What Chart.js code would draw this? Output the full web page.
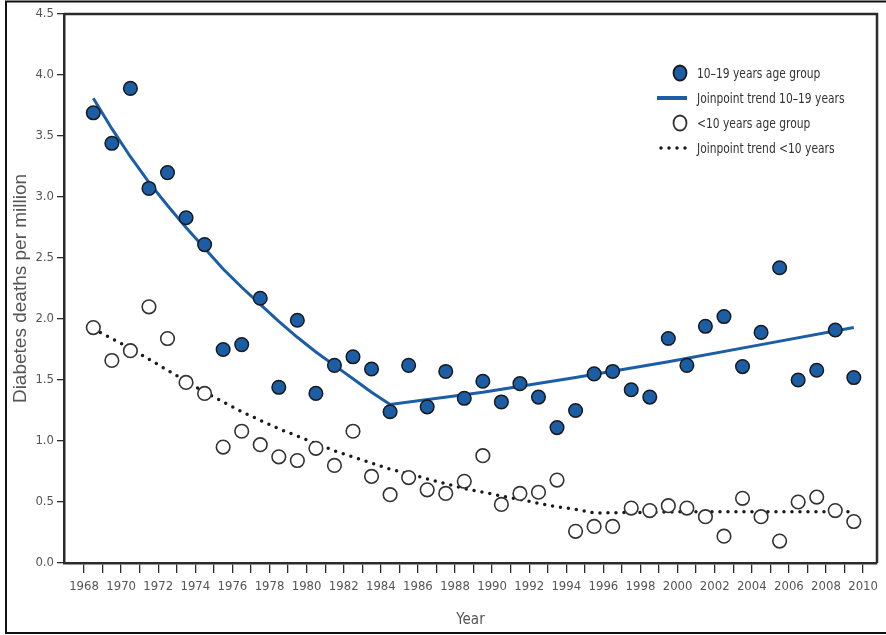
<!DOCTYPE html>
<html>
<head>
<meta charset="utf-8">
<script src="https://cdn.jsdelivr.net/npm/chart.js@4.4.1/dist/chart.umd.min.js"></script>
<style>
  html, body { margin: 0; padding: 0; background: #fff; }
  #wrap { width: 886px; height: 635px; position: relative; }
</style>
</head>
<body>
<div id="wrap"><canvas id="chart"></canvas></div>
<script>
// annual values, plotted at mid-year
const years = [1968, 1969, 1970, 1971, 1972, 1973, 1974, 1975, 1976, 1977, 1978, 1979, 1980, 1981,
  1982, 1983, 1984, 1985, 1986, 1987, 1988, 1989, 1990, 1991, 1992, 1993, 1994, 1995, 1996, 1997,
  1998, 1999, 2000, 2001, 2002, 2003, 2004, 2005, 2006, 2007, 2008, 2009];
const age10to19 = [3.69, 3.44, 3.89, 3.07, 3.20, 2.83, 2.61, 1.75, 1.79, 2.17, 1.44, 1.99, 1.39, 1.62,
  1.69, 1.59, 1.24, 1.62, 1.28, 1.57, 1.35, 1.49, 1.32, 1.47, 1.36, 1.11, 1.25, 1.55, 1.57, 1.42,
  1.36, 1.84, 1.62, 1.94, 2.02, 1.61, 1.89, 2.42, 1.50, 1.58, 1.91, 1.52];
const under10 = [1.93, 1.66, 1.74, 2.10, 1.84, 1.48, 1.39, 0.95, 1.08, 0.97, 0.87, 0.84, 0.94, 0.80,
  1.08, 0.71, 0.56, 0.70, 0.60, 0.57, 0.67, 0.88, 0.48, 0.57, 0.58, 0.68, 0.26, 0.30, 0.30, 0.45,
  0.43, 0.47, 0.45, 0.38, 0.22, 0.53, 0.38, 0.18, 0.50, 0.54, 0.43, 0.34];

// joinpoint trends
const trend10to19Years = [1968, 1969, 1970, 1971, 1972, 1973, 1974, 1975, 1976, 1977, 1978, 1979,
  1980, 1981, 1982, 1983, 1984, 1989, 1994, 1999, 2004, 2009];
const trend10to19 = [3.81, 3.56, 3.33, 3.12, 2.93, 2.75, 2.58, 2.41, 2.26, 2.12, 1.98, 1.85,
  1.73, 1.62, 1.51, 1.40, 1.30, 1.40, 1.52, 1.65, 1.79, 1.93];
const trendUnder10Years = [1968, 1969, 1970, 1971, 1972, 1973, 1974, 1975, 1976, 1977, 1978, 1979,
  1980, 1981, 1982, 1983, 1984, 1985, 1986, 1987, 1988, 1989, 1990, 1991, 1992, 1993, 1994, 1995,
  2000, 2005, 2009];
const trendUnder10 = [1.92, 1.84, 1.76, 1.67, 1.58, 1.49, 1.40, 1.32, 1.24, 1.17, 1.10, 1.04,
  0.98, 0.92, 0.87, 0.82, 0.77, 0.73, 0.69, 0.65, 0.61, 0.58, 0.55, 0.52, 0.49, 0.46, 0.44, 0.41,
  0.42, 0.42, 0.42];

const tickYears = [1968, 1969, 1970, 1971, 1972, 1973, 1974, 1975, 1976, 1977, 1978, 1979, 1980,
  1981, 1982, 1983, 1984, 1985, 1986, 1987, 1988, 1989, 1990, 1991, 1992, 1993, 1994, 1995, 1996,
  1997, 1998, 1999, 2000, 2001, 2002, 2003, 2004, 2005, 2006, 2007, 2008, 2009, 2010];

const labels = ['10–19 years age group', 'Joinpoint trend 10–19 years', '<10 years age group', 'Joinpoint trend <10 years'];

const narrow = "'DejaVu Sans Condensed', 'Liberation Sans Narrow', sans-serif";
const blue = '#1c5ea6';
const ink = '#2b2b2b';
const grey = '#555';

const toPoints = (xs, ys) => xs.map((yr, i) => ({ x: yr + 0.5, y: ys[i] }));

const insetLegend = {
  id: 'insetLegend',
  afterDraw(chart) {
    const { ctx, chartArea: a } = chart;
    const mx = a.right - 197, top = a.top + 59, gap = 25;
    const squeeze = 0.85;
    ctx.save();
    ctx.font = '14px ' + narrow;
    ctx.textBaseline = 'middle';
    chart.data.datasets.forEach((ds, i) => {
      const cy = top + i * gap;
      if (ds.showLine === false) {
        ctx.beginPath();
        ctx.ellipse(mx, cy, 6.5, 7.5, 0, 0, Math.PI * 2);
        ctx.fillStyle = ds.pointBackgroundColor;
        ctx.fill();
        ctx.lineWidth = 1.8;
        ctx.strokeStyle = ds.pointBorderColor;
        ctx.stroke();
      } else {
        ctx.beginPath();
        ctx.setLineDash(ds.borderDash || []);
        ctx.lineCap = ds.borderCapStyle || 'butt';
        ctx.lineWidth = ds.borderDash ? 3.5 : 4;
        ctx.strokeStyle = ds.borderColor;
        ctx.moveTo(mx - (ds.borderDash ? 19 : 23), cy);
        ctx.lineTo(mx + 7, cy);
        ctx.stroke();
        ctx.setLineDash([]);
      }
      // the source picture is narrow, so squeeze the legend text a little
      ctx.save();
      ctx.translate(mx + 17, cy + 1);
      ctx.scale(squeeze, 1);
      ctx.fillStyle = '#333';
      ctx.fillText(ds.label, 0, 0);
      ctx.restore();
    });
    ctx.restore();
  }
};

const frames = {
  id: 'frames',
  afterDraw(chart) {
    const { ctx, chartArea: a } = chart;
    ctx.save();
    ctx.strokeStyle = ink;
    ctx.lineWidth = 2.5;
    ctx.beginPath();
    ctx.moveTo(a.left, a.top);
    ctx.lineTo(a.right, a.top);
    ctx.lineTo(a.right, a.bottom);
    ctx.stroke();
    // outer picture frame
    ctx.strokeStyle = '#111';
    ctx.lineWidth = 2;
    ctx.strokeRect(6, 1.5, 900, 631.5);
    ctx.restore();
  }
};

new Chart(document.getElementById('chart'), {
  type: 'scatter',
  data: {
    datasets: [
      {
        label: labels[0],
        data: toPoints(years, age10to19),
        showLine: false,
        pointRadius: 6.8,
        pointBackgroundColor: blue,
        pointBorderColor: '#1a1a1a',
        pointBorderWidth: 1.5,
      },
      {
        label: labels[1],
        data: toPoints(trend10to19Years, trend10to19),
        showLine: true,
        borderColor: blue,
        borderWidth: 3,
        pointRadius: 0,
        tension: 0,
      },
      {
        label: labels[2],
        data: toPoints(years, under10),
        showLine: false,
        pointRadius: 6.8,
        pointBackgroundColor: '#fff',
        pointBorderColor: '#333',
        pointBorderWidth: 1.6,
      },
      {
        label: labels[3],
        data: toPoints(trendUnder10Years, trendUnder10),
        showLine: true,
        borderColor: '#1a1a1a',
        borderWidth: 3.5,
        borderDash: [0, 8],
        borderCapStyle: 'round',
        pointRadius: 0,
        tension: 0,
      },
    ],
  },
  options: {
    responsive: true,
    maintainAspectRatio: false,
    animation: false,
    layout: { padding: { left: 4, top: 14, right: 9, bottom: 0 } },
    plugins: { legend: { display: false }, tooltip: { enabled: false } },
    scales: {
      x: {
        type: 'linear',
        min: 1966.92,
        max: 2010.75,
        afterBuildTicks: s => { s.ticks = tickYears.map(v => ({ value: v })); },
        afterFit: s => { s.height = 72; },
        ticks: {
          autoSkip: false,
          maxRotation: 0,
          padding: 6,
          color: grey,
          font: { family: narrow, size: 13 },
          callback: v => (v % 2 === 0 ? String(v) : ''),
        },
        grid: { drawOnChartArea: false, tickLength: 10, color: ink, lineWidth: 1.3 },
        border: { color: ink, width: 2.5 },
        title: {
          display: true,
          text: 'Year',
          color: grey,
          font: { family: narrow, size: 15 },
          padding: { top: 0, bottom: 6 },
        },
      },
      y: {
        min: 0,
        max: 4.5,
        afterFit: s => { s.width = 60; },
        ticks: {
          stepSize: 0.5,
          padding: 3,
          color: grey,
          font: { family: narrow, size: 13 },
          callback: v => v.toFixed(1),
        },
        grid: { drawOnChartArea: false, tickLength: 7, color: ink, lineWidth: 1.3 },
        border: { color: ink, width: 2.5 },
        title: {
          display: true,
          text: 'Diabetes deaths per million',
          color: grey,
          font: { family: "'Liberation Sans', Arial, sans-serif", size: 19 },
          padding: { top: 5, bottom: 0 },
        },
      },
    },
  },
  plugins: [insetLegend, frames],
});
</script>
</body>
</html>
